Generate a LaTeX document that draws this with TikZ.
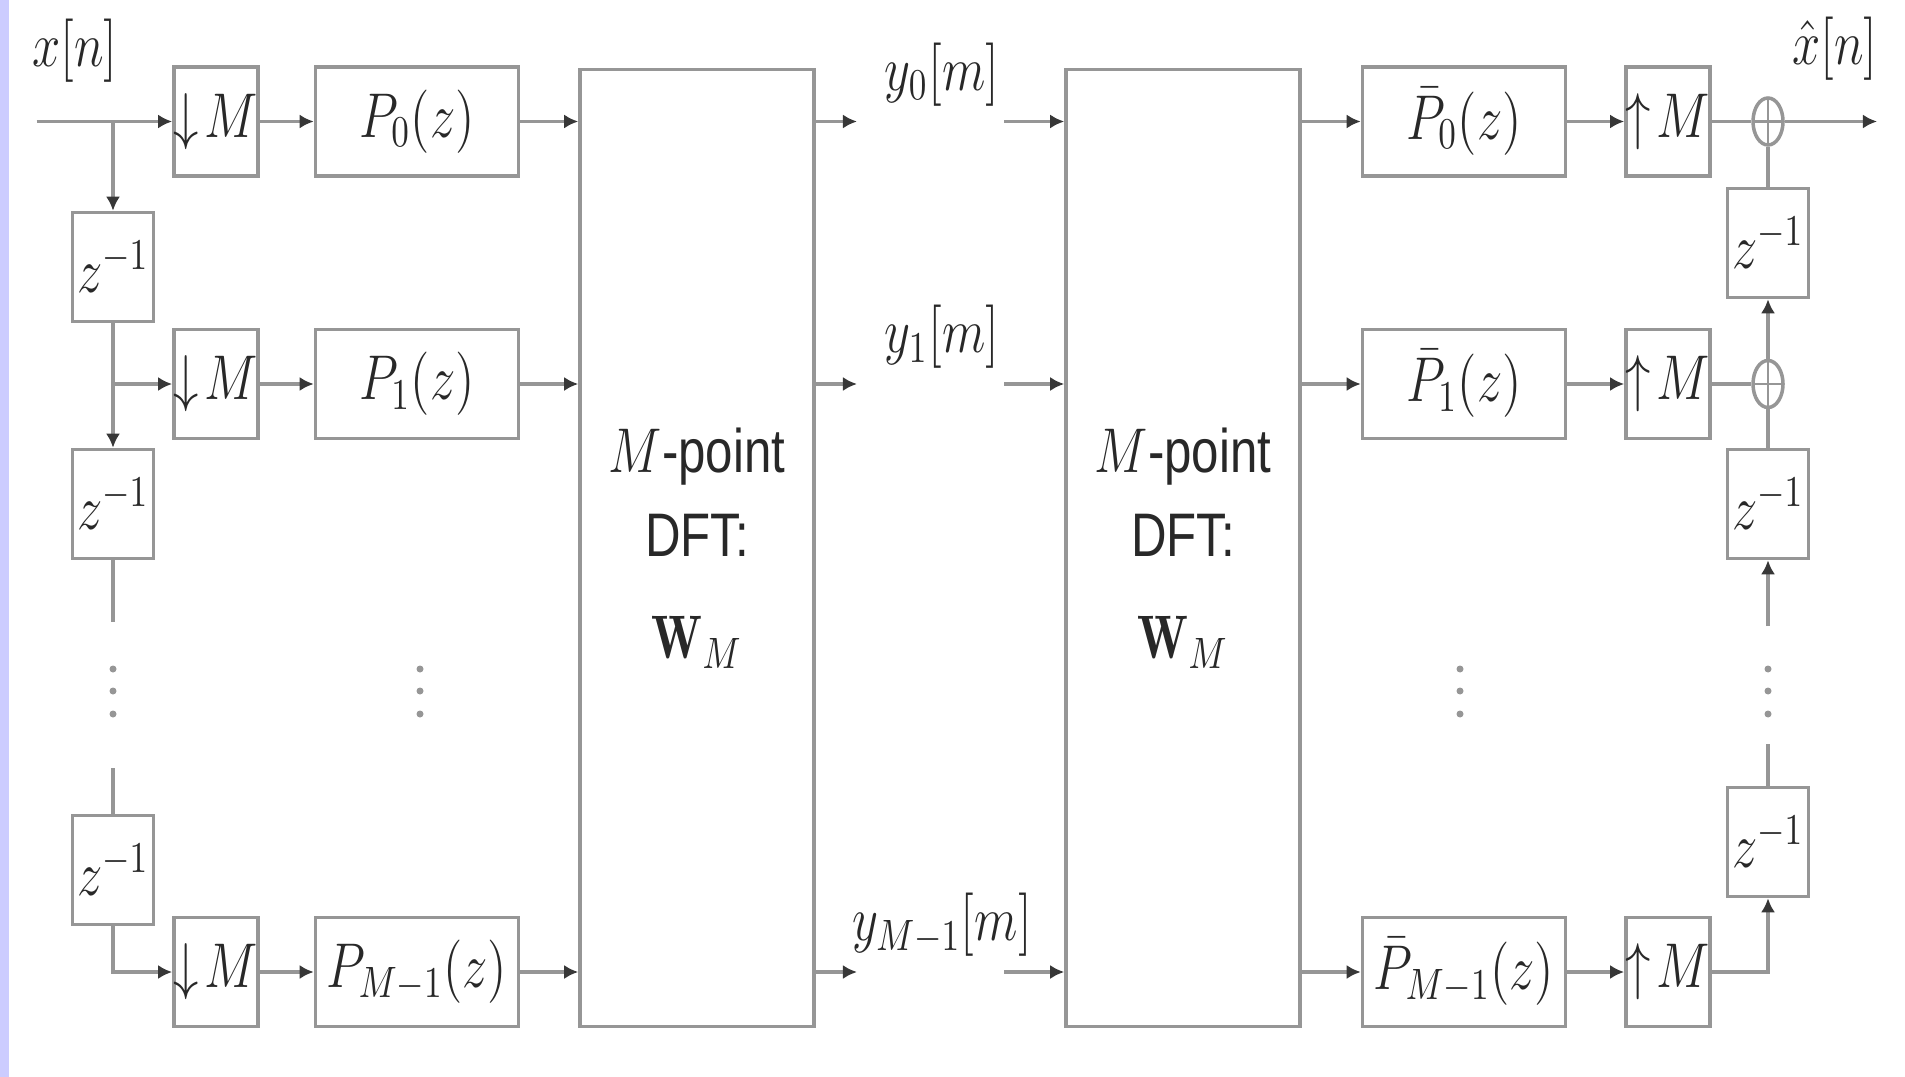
\documentclass[tikz,border=0pt]{standalone}
\usepackage{amsmath,amssymb}
\usepackage{fontspec}
\usepackage{graphicx}
\usepackage{tikz}
\usetikzlibrary{arrows.meta,calc,positioning,shapes.geometric}
\newfontfamily\dftfont{Liberation Sans}
\definecolor{lnc}{RGB}{150,150,150}
\definecolor{txc}{RGB}{40,40,40}
\definecolor{tipc}{RGB}{55,55,55}
\definecolor{stripc}{RGB}{204,204,255}
\newcommand{\st}[1]{\scalebox{1}[1.25]{#1}}

\begin{document}
\begin{tikzpicture}[font=\fontsize{14}{17}\selectfont,text=txc,
  >={Latex[length=4pt,width=4pt,color=tipc]},
  blk/.style={draw=lnc,line width=1pt,minimum height=1.09cm,inner sep=0pt},
  dbox/.style={blk,minimum width=0.79cm},
  zbox/.style={blk,minimum width=0.81cm},
  pbox/.style={blk,minimum width=2.03cm},
  dftbox/.style={blk,minimum width=2.34cm,minimum height=9.57cm,align=center},
  adder/.style={draw=lnc,line width=1pt,ellipse,minimum width=0.3cm,minimum height=0.47cm,inner sep=0pt,
    path picture={\draw[lnc,line width=0.8pt] (path picture bounding box.north) -- (path picture bounding box.south)
      (path picture bounding box.west) -- (path picture bounding box.east);}},
  wire/.style={draw=lnc,line width=1pt}]
  \useasboundingbox (0,0) rectangle (19.05,-10.77);
  \fill[stripc] (0,0) rectangle (0.09,-10.77);

  % the two DFT blocks
  \node[dftbox] (dft1) at (6.97,-5.48) {\st{$M${\dftfont -point}}\\[7pt]\st{\dftfont DFT:}\\[12pt]\st{$\mathbf{W}_M$}};
  \node[dftbox] (dft2) at (11.83,-5.48) {\st{$M${\dftfont -point}}\\[7pt]\st{\dftfont DFT:}\\[12pt]\st{$\mathbf{W}_M$}};

  % polyphase rows
  \foreach \i/\y/\s in {0/-1.215/0,1/-3.84/1,2/-9.72/{M-1}} {
    \node[dbox] (dn\i) at (2.16,\y) {\st{$\downarrow\!M$}};
    \node[pbox] (p\i) at (4.17,\y) {\st{$P_{\s}(z)$}};
    \node[pbox] (pb\i) at (14.64,\y) {\st{$\bar{P}_{\s}(z)$}};
    \node[dbox] (up\i) at (16.68,\y) {\st{$\uparrow\!M$}};
    \coordinate (ya\i) at (8.57,\y);
    \coordinate (yb\i) at (10.04,\y);
    \node (yl\i) at (9.42,\y+0.47) {\st{$y_{\s}[m]$}};
    \draw[wire,->] (dn\i) -- (p\i);
    \draw[wire,->] (p\i) -- (p\i -| dft1.west);
    \draw[wire,->] (dft1.east |- p\i) -- (ya\i);
    \draw[wire,->] (yb\i) -- (dft2.west |- p\i);
    \draw[wire,->] (dft2.east |- pb\i) -- (pb\i);
    \draw[wire,->] (pb\i) -- (up\i);
  }

  % input delay chain
  \node[zbox] (zl1) at (1.13,-2.67) {\st{$z^{-1}$}};
  \node[zbox] (zl2) at (1.13,-5.04) {\st{$z^{-1}$}};
  \node[zbox] (zl3) at (1.13,-8.7) {\st{$z^{-1}$}};
  \coordinate (xin) at (0.365,-1.215);
  \coordinate (lc1) at (1.13,-6.22);
  \coordinate (lc2) at (1.13,-7.68);
  \node (xl) at (0.75,-0.51) {\st{$x[n]$}};
  \draw[wire,->] (xin) -- (dn0);
  \draw[wire,->] (zl1 |- dn0) -- (zl1);
  \draw[wire,->] (zl1) -- (zl2);
  \draw[wire,->] (zl1 |- dn1) -- (dn1);
  \draw[wire] (zl2) -- (lc1);
  \draw[wire] (lc2) -- (zl3);
  \draw[wire,->] (zl3) |- (dn2);

  % output delay chain
  \node[adder] (s0) at (17.68,-1.215) {};
  \node[adder] (s1) at (17.68,-3.84) {};
  \node[zbox] (zr1) at (17.68,-2.43) {\st{$z^{-1}$}};
  \node[zbox] (zr2) at (17.68,-5.04) {\st{$z^{-1}$}};
  \node[zbox] (zr3) at (17.68,-8.42) {\st{$z^{-1}$}};
  \coordinate (xout) at (18.77,-1.215);
  \coordinate (rc1) at (17.68,-6.26);
  \coordinate (rc2) at (17.68,-7.44);
  \node (xh) at (18.35,-0.49) {\st{$\hat{x}[n]$}};
  \draw[wire] (up0) -- (s0);
  \draw[wire,->] (s0) -- (xout);
  \draw[wire] (up1) -- (s1);
  \draw[wire] (zr1) -- (s0);
  \draw[wire,->] (s1) -- (zr1);
  \draw[wire] (zr2) -- (s1);
  \draw[wire,->] (rc1) -- (zr2);
  \draw[wire] (zr3) -- (rc2);
  \draw[wire,->] (up2) -| (zr3);

  % vertical dots
  \foreach \x in {1.13,4.2,14.6,17.68}
    \foreach \yy in {6.69,6.91,7.14} \fill[lnc] (\x,-\yy) circle (0.035);
\end{tikzpicture}
\end{document}
